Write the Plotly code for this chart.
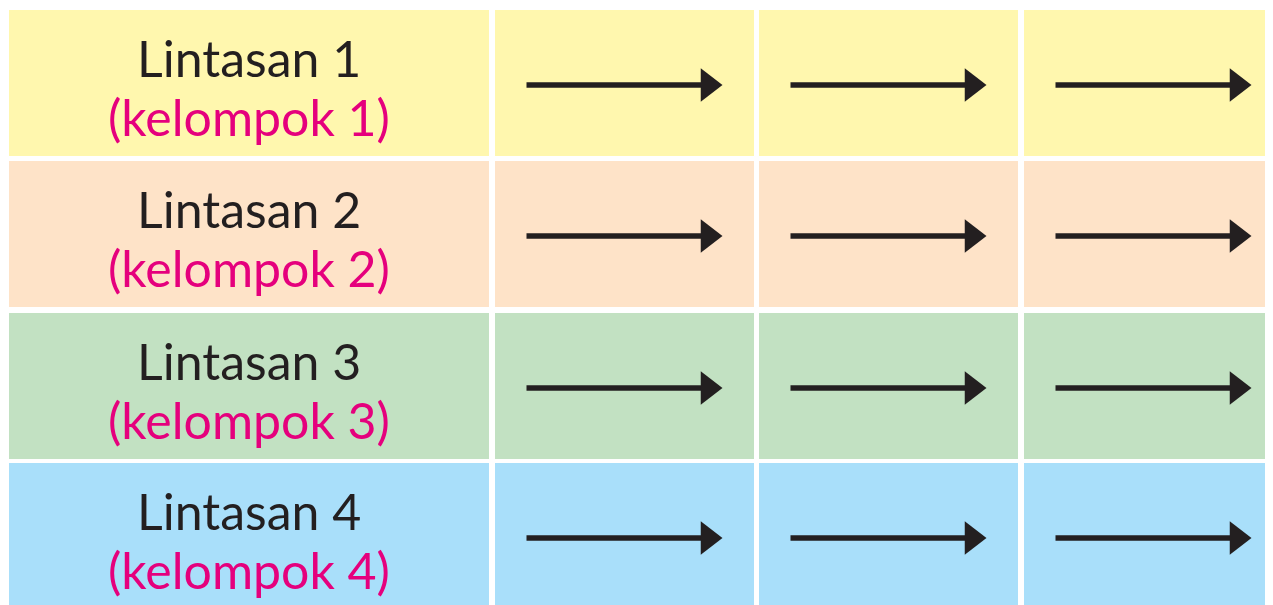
import plotly.graph_objects as go

# ---- data ----
lanes = ["Lintasan 1", "Lintasan 2", "Lintasan 3", "Lintasan 4"]
groups = ["(kelompok 1)", "(kelompok 2)", "(kelompok 3)", "(kelompok 4)"]
row_colors = ["#FFF7AE", "#FEE3C8", "#C2E1C2", "#A9DFFA"]
arrow_columns = ["step 1", "step 2", "step 3"]

# ---- layout geometry (page pixel space) ----
W, H = 1273, 605
OFF = 8  # default page body margin
row_tops = [10, 161, 313, 463]
row_h = 146
col_lefts = [9, 495, 759, 1024]
col_widths = [480, 259, 259, 259]

TEXT_DARK = "#231F20"
MAGENTA = "#E5007D"
FONT = "Lato, 'Open Sans', sans-serif"

fig = go.Figure()
shapes = []
annotations = []

for r, (lane, grp, color) in enumerate(zip(lanes, groups, row_colors)):
    y0 = row_tops[r]
    y1 = y0 + row_h
    for c in range(len(col_lefts)):
        x0 = col_lefts[c]
        x1 = x0 + col_widths[c]
        shapes.append(dict(type="rect", xref="x", yref="y", x0=x0, x1=x1, y0=y0, y1=y1,
                           fillcolor=color, line=dict(width=0), layer="below"))
    cx = col_lefts[0] + col_widths[0] / 2
    annotations.append(dict(x=cx, y=y0 + 48, xref="x", yref="y", text=lane, showarrow=False,
                            font=dict(family=FONT, size=50, color=TEXT_DARK),
                            xanchor="center", yanchor="middle"))
    annotations.append(dict(x=cx, y=y0 + 107, xref="x", yref="y", text=grp, showarrow=False,
                            font=dict(family=FONT, size=50, color=MAGENTA),
                            xanchor="center", yanchor="middle"))
    ay = y0 + 75
    for k, _ in enumerate(arrow_columns):
        left = col_lefts[k + 1]
        xs = left + 31.5
        tip = left + 230
        head_c = tip - 17
        fig.add_trace(go.Scatter(x=[xs, head_c], y=[ay, ay], mode="lines",
                                 line=dict(color=TEXT_DARK, width=5.5),
                                 hoverinfo="skip", showlegend=False))
        fig.add_trace(go.Scatter(x=[head_c], y=[ay], mode="markers",
                                 marker=dict(symbol="triangle-right", size=29, color=TEXT_DARK,
                                             line=dict(width=0)),
                                 hoverinfo="skip", showlegend=False))

fig.update_layout(
    width=W - OFF, height=H - OFF,
    margin=dict(l=0, r=0, t=0, b=0),
    paper_bgcolor="white", plot_bgcolor="white",
    shapes=shapes, annotations=annotations,
    xaxis=dict(range=[OFF, W], visible=False, fixedrange=True),
    yaxis=dict(range=[H, OFF], visible=False, fixedrange=True),
    showlegend=False,
)

fig.write_html("out.html")
